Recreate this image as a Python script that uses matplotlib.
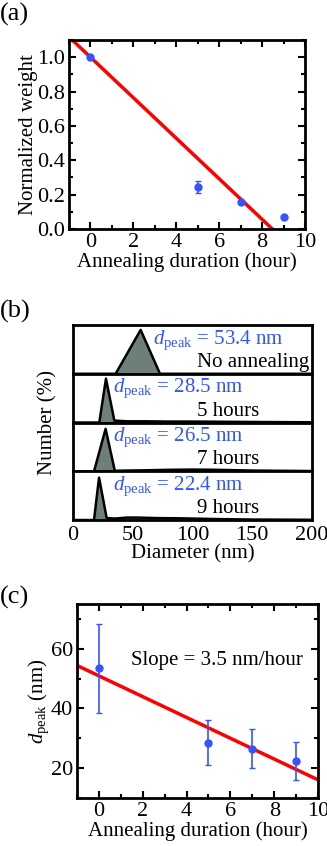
import numpy as np
import matplotlib.pyplot as plt
from matplotlib.ticker import MultipleLocator

plt.rcParams['font.family'] = ['Liberation Serif', 'DejaVu Serif']
plt.rcParams['font.serif'] = ['Liberation Serif']
plt.rcParams['mathtext.fontset'] = 'custom'
plt.rcParams['mathtext.rm'] = 'Liberation Serif'
plt.rcParams['mathtext.it'] = 'Liberation Serif:italic'

# (a) normalized weight vs annealing time
hours = [0, 5, 7, 9]
weight = [1.0, 0.245, 0.155, 0.07]
weight_err = [0.0, 0.035, 0.0, 0.0]
fit_a_x = [-1, 10]
fit_a_y = [1.118, -0.18]

# (b) size distributions
dist_labels = ['No annealing', '5 hours', '7 hours', '9 hours']
dist_peaks = [53.4, 28.5, 26.5, 22.4]
dist_x = [
    [0, 35.7, 56.6, 72.8, 200],
    [0, 22.0, 27.6, 34.6, 45, 60, 80, 100, 130, 160, 200],
    [0, 17.6, 27.3, 35.0, 45, 60, 80, 100, 120, 150, 200],
    [0, 17.6, 21.8, 28.2, 35, 45, 55, 70, 90, 120, 150, 200],
]
dist_y = [
    [0, 0, 90, 0, 0],
    [0, 0, 90, 4, 2.5, 2.5, 2, 2, 1.5, 1, 0.5],
    [0, 0, 87, 1, 1.5, 2, 3, 3.5, 3, 1.5, 0.5],
    [0, 0, 87, 4, 3, 5, 5, 4, 3.5, 2, 1, 0.5],
]

# (c) peak diameter vs annealing time
d_peak = [53.4, 28.5, 26.5, 22.4]
d_err = [15.0, 7.5, 6.5, 6.3]
fit_c_x = [-1, 10]
fit_c_y = [54.4, 16.1]

blue = '#3355ff'
red = '#ff0000'
fill = '#6e7f7b'
fs = 15
tfs = 16
serif = 'Liberation Serif'

fig = plt.figure(figsize=(3.27, 8.46), dpi=100)


def style_axes(ax):
    for s in ax.spines.values():
        s.set_linewidth(2)
    ax.tick_params(which='both', direction='in', top=True, right=True, width=1.5, labelsize=tfs, pad=3)
    ax.tick_params(which='major', length=5)
    ax.tick_params(which='minor', length=3)
    for lab in ax.get_xticklabels() + ax.get_yticklabels():
        lab.set_family(serif)


# panel (a)
ax = fig.add_axes([0.211, 0.7293, 0.722, 0.2234])
ax.plot(fit_a_x, fit_a_y, color=red, lw=2.5, zorder=2)
ax.errorbar(hours, weight, yerr=weight_err, fmt='o', color=blue, ms=5, capsize=2, elinewidth=1.2, zorder=3)
ax.set_xlim(-1, 10)
ax.set_ylim(0, 1.1)
ax.xaxis.set_major_locator(MultipleLocator(2))
ax.xaxis.set_minor_locator(MultipleLocator(1))
ax.yaxis.set_major_locator(MultipleLocator(0.2))
ax.yaxis.set_minor_locator(MultipleLocator(0.1))
ax.set_xlabel('Annealing duration (hour)', fontsize=fs, family=serif, labelpad=0)
ax.set_ylabel('Normalized weight', fontsize=fs, family=serif, labelpad=-1)
style_axes(ax)

# panel (b)
b_left, b_bottom, b_w, b_top = 0.2232, 0.3853, 0.731, 0.6158
h = (b_top - b_bottom) / 4
axes_b = []
for i in range(4):
    axb = fig.add_axes([b_left, b_top - (i + 1) * h, b_w, h])
    axb.fill_between(dist_x[i], dist_y[i], color=fill, lw=0)
    axb.plot(dist_x[i], dist_y[i], color='black', lw=1.8)
    axb.set_xlim(0, 200)
    axb.set_ylim(0, 100)
    axb.set_yticks([])
    for s in axb.spines.values():
        s.set_linewidth(2)
    axb.tick_params(axis='x', length=0, labelsize=tfs, pad=4)
    tx = 67 if i == 0 else 33.5
    axb.text(tx, 62, r'$d_{\rm peak}$ = %.1f nm' % dist_peaks[i], color=blue, fontsize=fs)
    axb.text(104, 14, dist_labels[i], color='black', fontsize=fs, family=serif)
    if i < 3:
        axb.set_xticklabels([])
    axes_b.append(axb)
axes_b[-1].set_xticks([0, 50, 100, 150, 200])
for lab in axes_b[-1].get_xticklabels():
    lab.set_family(serif)
axes_b[-1].set_xlabel('Diameter (nm)', fontsize=fs, family=serif, labelpad=0)
fig.text(0.145, (b_top + b_bottom) / 2, 'Number (%)', rotation=90, fontsize=fs, family=serif,
         ha='center', va='center')

# panel (c)
ax = fig.add_axes([0.2355, 0.0567, 0.737, 0.2294])
ax.plot(fit_c_x, fit_c_y, color=red, lw=2.5, zorder=2)
ax.errorbar(hours, d_peak, yerr=d_err, fmt='o', color=blue, ms=5, capsize=2, elinewidth=1.2, zorder=3)
ax.set_xlim(-1, 10)
ax.set_ylim(10, 75)
ax.xaxis.set_major_locator(MultipleLocator(2))
ax.xaxis.set_minor_locator(MultipleLocator(1))
ax.yaxis.set_major_locator(MultipleLocator(20))
ax.yaxis.set_minor_locator(MultipleLocator(10))
ax.set_xlabel('Annealing duration (hour)', fontsize=fs, family=serif, labelpad=0)
ax.set_ylabel(r'$d_{\rm peak}$ (nm)', fontsize=fs, labelpad=0)
ax.text(1.45, 56.2, 'Slope = 3.5 nm/hour', fontsize=fs, family=serif, va='center')
style_axes(ax)

fig.text(0.0, 0.997, '(a)', fontsize=19, family=serif, va='top')
fig.text(0.0, 0.645, '(b)', fontsize=19, family=serif, va='top')
fig.text(0.0, 0.308, '(c)', fontsize=19, family=serif, va='top')

fig.savefig('out.png', dpi=100)
